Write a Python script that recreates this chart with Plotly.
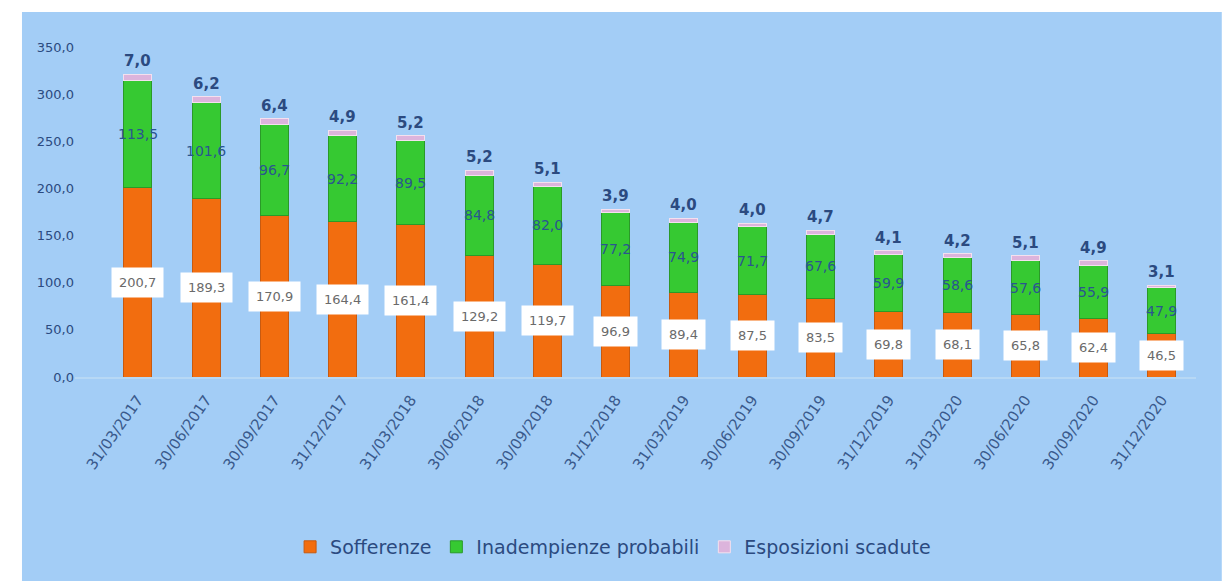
import plotly.graph_objects as go

categories = ["31/03/2017", "30/06/2017", "30/09/2017", "31/12/2017", "31/03/2018", "30/06/2018",
              "30/09/2018", "31/12/2018", "31/03/2019", "30/06/2019", "30/09/2019", "31/12/2019",
              "31/03/2020", "30/06/2020", "30/09/2020", "31/12/2020"]
sofferenze = [200.7, 189.3, 170.9, 164.4, 161.4, 129.2, 119.7, 96.9, 89.4, 87.5, 83.5, 69.8, 68.1, 65.8, 62.4, 46.5]
inadempienze = [113.5, 101.6, 96.7, 92.2, 89.5, 84.8, 82.0, 77.2, 74.9, 71.7, 67.6, 59.9, 58.6, 57.6, 55.9, 47.9]
scadute = [7.0, 6.2, 6.4, 4.9, 5.2, 5.2, 5.1, 3.9, 4.0, 4.0, 4.7, 4.1, 4.2, 5.1, 4.9, 3.1]
y_ticks = [0, 50, 100, 150, 200, 250, 300, 350]

FONT = "'DejaVu Sans', sans-serif"
DARK = "#2b4a80"
BG = "#a3cdf6"

def fmt(v):
    return f"{v:.1f}".replace(".", ",")

fig = go.Figure()
fig.add_trace(go.Bar(
    x=categories, y=sofferenze, name="Sofferenze",
    marker=dict(color="#f26d0f", line=dict(color="#c85a10", width=1)),
    width=0.41,
))
fig.add_trace(go.Bar(
    x=categories, y=inadempienze, name="Inadempienze probabili",
    marker=dict(color="#36c932", line=dict(color="#2a9a28", width=1)),
    width=0.41,
))
fig.add_trace(go.Bar(
    x=categories, y=scadute, name="Esposizioni scadute",
    marker=dict(color="#dcb4dc", line=dict(color="#f4e0ee", width=1)),
    width=0.41,
))

annotations = []
for c, s, i, e in zip(categories, sofferenze, inadempienze, scadute):
    annotations.append(dict(
        x=c, y=s / 2, text=fmt(s), showarrow=False,
        bgcolor="white", borderpad=7,
        font=dict(color="#6a6a6a", size=13, family=FONT),
    ))
    annotations.append(dict(
        x=c, y=s + i / 2, text=fmt(i), showarrow=False,
        font=dict(color="#2a5590", size=14, family=FONT),
    ))
    annotations.append(dict(
        x=c, y=s + i + e, text="<b>" + fmt(e) + "</b>", showarrow=False,
        yanchor="bottom", yshift=2,
        font=dict(color=DARK, size=15, family=FONT),
    ))

fig.update_layout(
    width=1222, height=573,
    barmode="stack",
    separators=",.",
    paper_bgcolor="white",
    plot_bgcolor=BG,
    margin=dict(l=67, r=34, t=39, b=204),
    font=dict(family=FONT, color=DARK, size=13),
    showlegend=True,
    legend=dict(orientation="h", x=0.48, xanchor="center", y=-0.515, yanchor="middle",
                font=dict(size=19, color=DARK), bgcolor="rgba(0,0,0,0)",
                itemwidth=30, traceorder="normal"),
    annotations=annotations,
    shapes=[dict(type="rect", xref="paper", yref="paper",
                 x0=-0.0473, x1=1.023, y0=-0.65, y1=1.106,
                 fillcolor=BG, line=dict(width=0), layer="below")],
    xaxis=dict(range=[-0.92, 15.5], tickangle=-55, showgrid=False, showline=True,
               linecolor="#b7d8f5", linewidth=2, ticks="outside", ticklen=6, tickcolor=BG,
               tickfont=dict(size=15, color="#3a5a8c")),
    yaxis=dict(range=[0, 350], tickvals=y_ticks, tickformat=".1f", showgrid=False,
               zeroline=False, ticks="", tickfont=dict(size=13, color=DARK)),
)

fig.write_html("out.html")
